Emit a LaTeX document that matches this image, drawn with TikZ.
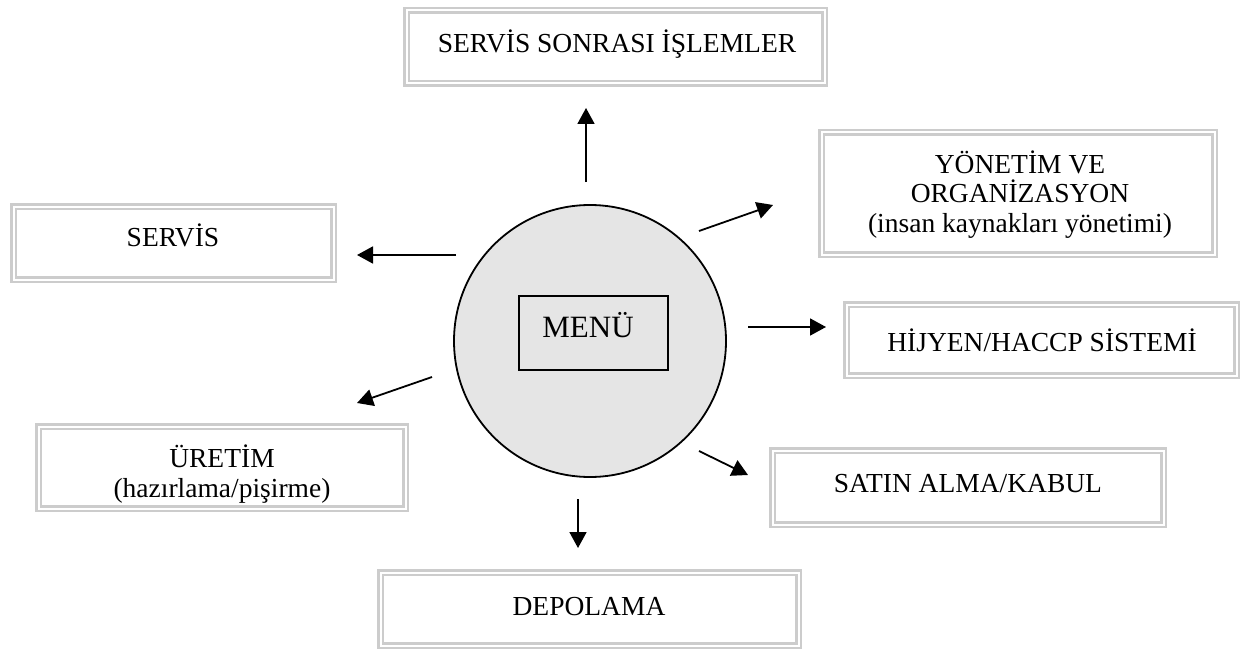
\documentclass[tikz,border=0pt]{standalone}
\usepackage{fontspec}
\setmainfont{Liberation Serif}
\usetikzlibrary{arrows.meta}
\begin{document}
\begin{tikzpicture}[x=1pt,y=-1pt,
  dbox/.style={draw=gray!40, line width=2.5pt, double=white, double distance=2pt, inner sep=0pt, rectangle},
  lbl/.style={anchor=base, font=\fontsize{27.5}{29.5}\selectfont, align=center, inner sep=0pt},
  arr/.style={-{Triangle[length=16pt,width=17pt]}, line width=1.8pt}]
\useasboundingbox (0,0) rectangle (1245,650);
% circle and menu box
\node[circle, draw, line width=1.8pt, fill=gray!20, minimum size=272pt, inner sep=0pt] (circ) at (590,341) {};
\node[draw, line width=1.8pt, minimum width=149pt, minimum height=74pt, inner sep=0pt] (menubox) at (593.5,333) {};
\node[anchor=base, font=\fontsize{31}{34}\selectfont, inner sep=0pt] (menu) at (588,337) {MENÜ};
% boxes
\node[dbox, minimum width=418pt, minimum height=73pt] (top) at (615.5,47) {};
\node[dbox, minimum width=393pt, minimum height=122pt] (yon) at (1018,193.5) {};
\node[dbox, minimum width=320pt, minimum height=73pt] (serv) at (173.5,243) {};
\node[dbox, minimum width=390pt, minimum height=71pt] (hij) at (1041.5,340) {};
\node[dbox, minimum width=367pt, minimum height=82pt] (ure) at (222,467.5) {};
\node[dbox, minimum width=391pt, minimum height=74pt] (sat) at (968,487.5) {};
\node[dbox, minimum width=418pt, minimum height=73pt] (dep) at (589.5,609) {};
% labels (anchor=base: baseline of the last line)
\node[lbl] (ttop) at (617,53) {SERVİS SONRASI İŞLEMLER};
\node[lbl] (tyon) at (1020,232) {YÖNETİM VE\\ORGANİZASYON\\(insan kaynakları yönetimi)};
\node[lbl] (tserv) at (173,246) {SERVİS};
\node[lbl] (thij) at (1042,351) {HİJYEN/HACCP SİSTEMİ};
\node[lbl] (ture) at (222,497) {ÜRETİM\\(hazırlama/pişirme)};
\node[lbl] (tsat) at (968,492) {SATIN ALMA/KABUL};
\node[lbl] (tdep) at (589,615) {DEPOLAMA};
% arrow coordinates
\coordinate (a1s) at (586,182); \coordinate (a1e) at (586,108);
\coordinate (a2s) at (699,231); \coordinate (a2e) at (773,205);
\coordinate (a3s) at (456,255); \coordinate (a3e) at (357,255);
\coordinate (a4s) at (748,327); \coordinate (a4e) at (826,327);
\coordinate (a5s) at (432,377); \coordinate (a5e) at (357,403);
\coordinate (a6s) at (699,451); \coordinate (a6e) at (748,475);
\coordinate (a7s) at (578,499); \coordinate (a7e) at (578,548);
\draw[arr] (a1s) -- (a1e);
\draw[arr] (a2s) -- (a2e);
\draw[arr] (a3s) -- (a3e);
\draw[arr] (a4s) -- (a4e);
\draw[arr] (a5s) -- (a5e);
\draw[arr] (a6s) -- (a6e);
\draw[arr] (a7s) -- (a7e);
\end{tikzpicture}
\end{document}
